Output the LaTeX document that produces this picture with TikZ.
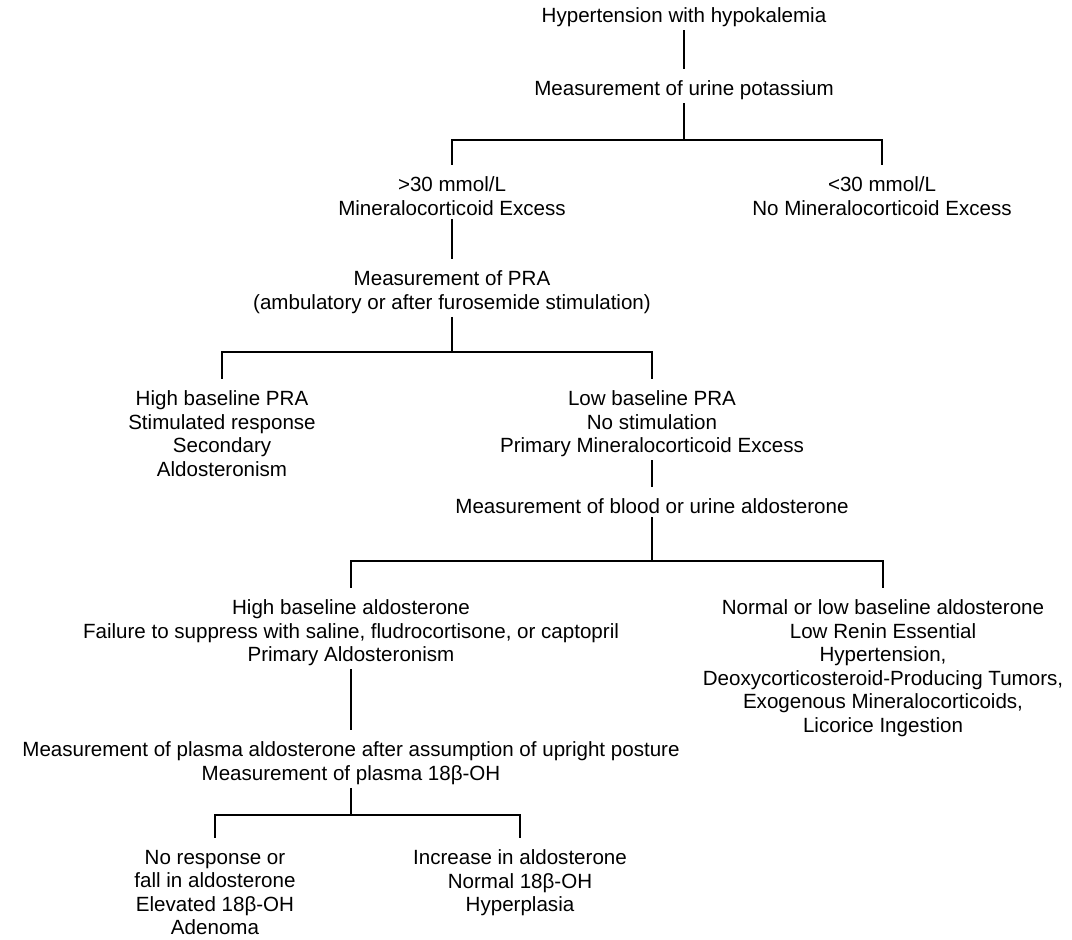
\documentclass[tikz,border=0pt]{standalone}
\usepackage{fontspec}
\setmainfont{Liberation Sans}

\begin{document}
\begin{tikzpicture}[
    finding/.style={align=center, anchor=north, inner sep=0.06cm, font=\fontsize{11.7}{13.4}\selectfont},
    wire/.style={line width=1.2pt},
    drop/.style={wire, shorten >=0.18cm}
]
\useasboundingbox (0,0) rectangle (21.44,-18.78);

\node[finding] (htn) at (13.68,-0.09) {Hypertension with hypokalemia};
\node[finding] (uk) at (13.68,-1.55) {Measurement of urine potassium};
\node[finding] (gt30) at (9.04,-3.47) {>30 mmol/L\\Mineralocorticoid Excess};
\node[finding] (lt30) at (17.64,-3.47) {<30 mmol/L\\No Mineralocorticoid Excess};
\node[finding] (pra) at (9.04,-5.35) {Measurement of PRA\\(ambulatory or after furosemide stimulation)};
\node[finding] (hipra) at (4.44,-7.75) {High baseline PRA\\Stimulated response\\Secondary\\Aldosteronism};
\node[finding] (lopra) at (13.04,-7.75) {Low baseline PRA\\No stimulation\\Primary Mineralocorticoid Excess};
\node[finding] (aldo) at (13.04,-9.91) {Measurement of blood or urine aldosterone};
\node[finding] (hialdo) at (7.02,-11.93) {High baseline aldosterone\\Failure to suppress with saline, fludrocortisone, or captopril\\Primary Aldosteronism};
\node[finding] (loaldo) at (17.66,-11.93) {Normal or low baseline aldosterone\\Low Renin Essential\\Hypertension,\\Deoxycorticosteroid-Producing Tumors,\\Exogenous Mineralocorticoids,\\Licorice Ingestion};
\node[finding] (upright) at (7.02,-14.77) {Measurement of plasma aldosterone after assumption of upright posture\\Measurement of plasma 18β-OH};
\node[finding] (adenoma) at (4.30,-16.93) {No response or\\fall in aldosterone\\Elevated 18β-OH\\Adenoma};
\node[finding] (hyper) at (10.40,-16.93) {Increase in aldosterone\\Normal 18β-OH\\Hyperplasia};

% branch points
\coordinate (b1) at (13.68,-2.80);
\coordinate (b2) at (9.04,-7.04);
\coordinate (b3) at (13.04,-11.22);
\coordinate (b4) at (7.02,-16.30);

\draw[drop] (htn) -- (uk);
\draw[wire] (uk) -- (b1);
\draw[drop] (b1) -| (gt30);
\draw[drop] (b1) -| (lt30);
\draw[drop] (gt30) -- (pra);
\draw[wire] (pra) -- (b2);
\draw[drop] (b2) -| (hipra);
\draw[drop] (b2) -| (lopra);
\draw[drop] (lopra) -- (aldo);
\draw[wire] (aldo) -- (b3);
\draw[drop] (b3) -| (hialdo);
\draw[drop] (b3) -| (loaldo);
\draw[drop] (hialdo) -- (upright);
\draw[wire] (upright) -- (b4);
\draw[drop] (b4) -| (adenoma);
\draw[drop] (b4) -| (hyper);
\end{tikzpicture}
\end{document}
